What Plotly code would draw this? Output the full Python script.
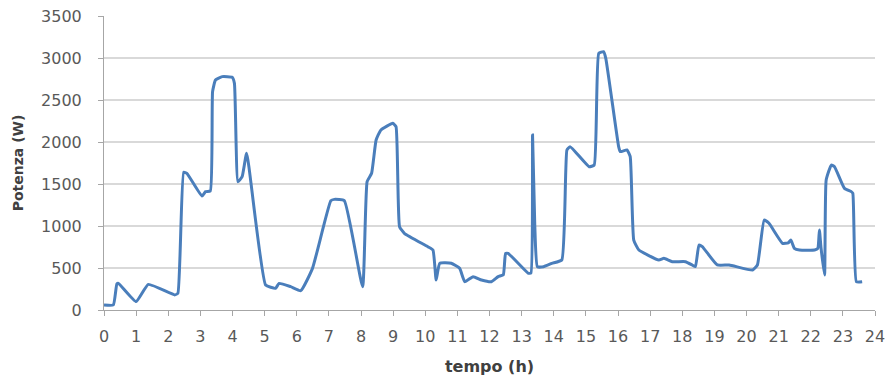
import plotly.graph_objects as go

hours = [0.0, 0.29, 0.4, 0.45, 1.0, 1.38, 2.2, 2.3, 2.48, 2.58, 3.05, 3.16, 3.31, 3.38, 3.47, 3.68, 3.99, 4.06,
         4.17, 4.3, 4.44, 5.03, 5.34, 5.45, 5.81, 6.125, 6.49, 7.06, 7.17, 7.48, 8.05, 8.19, 8.33,
         8.47, 8.62, 8.99, 9.09, 9.2, 9.35, 10.08, 10.24, 10.34, 10.45, 10.81, 11.07, 11.23, 11.49,
         11.75, 12.06, 12.27, 12.43, 12.5, 12.58, 13.21, 13.29, 13.34, 13.41, 13.49, 13.68, 13.94, 14.25,
         14.41, 14.51, 15.1, 15.26, 15.4, 15.55, 15.62, 16.02, 16.07, 16.28, 16.38, 16.49, 16.65,
         17.27, 17.43, 17.69, 18.1, 18.31, 18.41, 18.52, 18.625, 19.09, 19.46, 20.19, 20.34,
         20.55, 20.7, 21.12, 21.3, 21.38, 21.49, 21.65, 22.12, 22.22, 22.27, 22.32, 22.43, 22.48,
         22.64, 22.74, 23.05, 23.26, 23.31, 23.42, 23.6]
power = [60, 60, 310, 317, 100, 305, 180, 200, 1640, 1627, 1357, 1409, 1417, 2600, 2738, 2778, 2770, 2698,
         1528, 1587, 1865, 298, 258, 317, 278, 230, 496, 1300, 1317, 1302, 278, 1528, 1627,
         2024, 2143, 2222, 2183, 992, 913, 754, 714, 357, 556, 556, 496, 337, 397,
         357, 337, 397, 420, 675, 675, 437, 440, 2083, 1000, 516, 516, 556, 595,
         1905, 1944, 1706, 1726, 3056, 3075, 2996, 1944, 1885, 1905, 1825, 833, 714,
         595, 615, 575, 575, 536, 516, 774, 754, 536, 536, 476, 536,
         1071, 1032, 794, 800, 833, 734, 714, 714, 734, 952, 740, 417, 1548,
         1726, 1706, 1448, 1409, 1389, 337, 337]

y_ticks = [0, 500, 1000, 1500, 2000, 2500, 3000, 3500]
x_ticks = list(range(0, 25))

fig = go.Figure()
fig.add_trace(go.Scatter(
    x=hours, y=power, mode="lines",
    line=dict(color="#4A7EBB", width=3, shape="spline", smoothing=0.4),
    showlegend=False, hoverinfo="skip"))

font_fam = "DejaVu Sans, sans-serif"
fig.update_layout(
    width=890, height=378,
    margin=dict(l=104, r=15, t=16, b=68),
    plot_bgcolor="white", paper_bgcolor="white",
    font=dict(family=font_fam, color="#595959", size=16),
    xaxis=dict(
        range=[0, 24], tickvals=x_ticks, ticktext=[str(v) for v in x_ticks],
        showgrid=False, showline=True, linecolor="#A6A6A6", linewidth=1,
        ticks="outside", ticklen=5, tickcolor="#A6A6A6", zeroline=False,
        automargin=False,
        tickfont=dict(size=16, color="#595959"), ticklabelstandoff=7,
        title=dict(text="<b>tempo (h)</b>", font=dict(size=16, color="#404040"), standoff=15),
    ),
    yaxis=dict(
        range=[0, 3500], tickvals=y_ticks, ticktext=[str(v) for v in y_ticks],
        showgrid=True, gridcolor="#D9D9D9", gridwidth=2,
        showline=True, linecolor="#A6A6A6", linewidth=1,
        ticks="outside", ticklen=5, tickcolor="#A6A6A6", zeroline=False,
        automargin=False,
        tickfont=dict(size=16, color="#595959"), ticklabelstandoff=13,
        title=dict(text="<b>Potenza (W)</b>", font=dict(size=14, color="#404040"), standoff=14),
    ),
)

fig.write_html("out.html")
